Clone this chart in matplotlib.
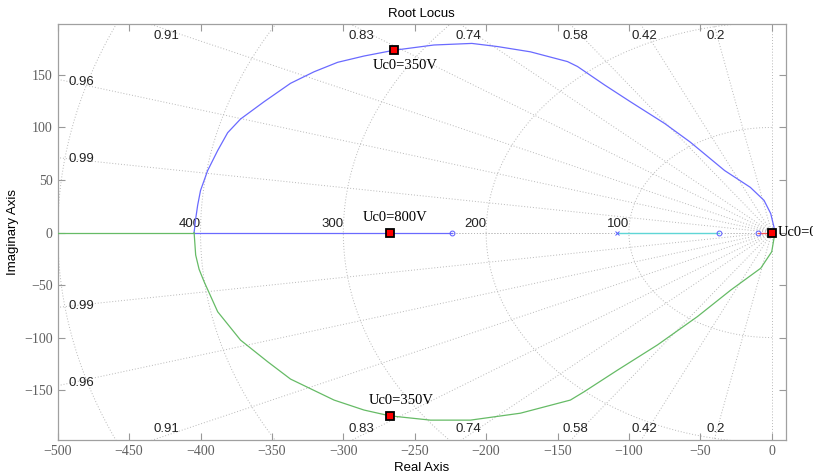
import numpy as np
import matplotlib.pyplot as plt

# root locus branches
upper_re = [-404.5, -403.5, -402, -400, -395, -388, -381, -372, -355.5, -337, -320.5, -304,
            -285.5, -264.5, -236.5, -210, -192, -169, -143, -136, -117, -99, -75, -57, -33,
            -15, -5.4, -0.7, 1.6, 1.5]
upper_im = [0, 12, 26, 40, 59, 78, 95, 108, 124.5, 142, 153, 162, 168, 173.5, 178.5, 180,
            177, 172, 162.7, 158, 140.4, 124.5, 103.8, 86, 59, 43, 30.6, 18, 5, 0]
lower_re = [-404.5, -403.4, -401, -397.5, -388, -372, -353, -337, -306.5, -285.5, -267.5,
            -239, -211, -176, -141, -131.4, -108, -80, -52, -28.7, -7.7, 0, 1.6, 1.5]
lower_im = [0, -21.4, -35, -46.8, -75.4, -102.4, -123, -139.5, -159.5, -169, -174.5,
            -178.6, -178.6, -172, -159.5, -151.6, -131, -107, -80, -54.8, -34, -18.3,
            -5.5, 0]
breakaway = -404.5
zeros_re = [-223.6, -36.9, -9.6]
pole_re = [-108.1]

uc_re = [-264.5, -267.5, -267.5, 0.5]
uc_im = [173.8, 0, -174.5, 0]
uc_text = ['Uc0=350V', 'Uc0=800V', 'Uc0=350V', 'Uc0=0V']

zetas = [0.2, 0.42, 0.58, 0.74, 0.83, 0.91, 0.96, 0.99]
zeta_labels = ['0.2', '0.42', '0.58', '0.74', '0.83', '0.91', '0.96', '0.99']
wns = [100, 200, 300, 400, 500]
wn_labels = ['100', '200', '300', '400']

xlim = (-500, 10)
ylim = (-197.5, 198.5)

fig = plt.figure(figsize=(8.13, 4.73), dpi=100)
ax = fig.add_axes([0.071, 0.0698, 0.8958, 0.8795])
ax.set_xlim(xlim)
ax.set_ylim(ylim)

gc = '#b8b8b8'
gls = (0, (1, 2))
# damping ratio rays
for z in [0.0, 1.0] + zetas:
    th = np.arccos(z)
    for s in (1, -1):
        ax.plot([0, -1000 * np.cos(th)], [0, s * 1000 * np.sin(th)], color=gc,
                lw=0.7, ls=gls, zorder=1)
# natural frequency arcs
t = np.linspace(np.pi / 2, 3 * np.pi / 2, 300)
for w in wns:
    ax.plot(w * np.cos(t), w * np.sin(t), color=gc, lw=0.7, ls=gls, zorder=1)

# zeta labels
lf = dict(fontsize=9.5, color='#222222', family='Liberation Sans')
ytop = 193
xleft = -492.5
for z, lab in zip(zetas, zeta_labels):
    tn = np.tan(np.arccos(z))
    xt = -ytop / tn
    if xt > xleft:
        ax.text(xt, ytop, lab, ha='center', va='top', **lf)
        ax.text(xt, -ytop, lab, ha='center', va='bottom', **lf)
    else:
        yl = -xleft * tn
        ax.text(xleft, yl, lab, ha='left', va='center', **lf)
        ax.text(xleft, -yl, lab, ha='left', va='center', **lf)
for w, lab in zip(wns, wn_labels):
    ax.text(-w, 2, lab, ha='right', va='bottom', **lf)

blue = '#6a6aff'
green = '#66bb66'
cyan = '#5fd6d6'
red = '#ff5050'
ax.plot([xlim[0], breakaway], [0, 0], color=green, lw=0.9, zorder=3)
ax.plot([breakaway, zeros_re[0]], [0, 0], color=blue, lw=0.9, zorder=3)
ax.plot([pole_re[0], zeros_re[1]], [0, 0], color=cyan, lw=1.0, zorder=3)
ax.plot([zeros_re[2], 0], [0, 0], color=red, lw=0.9, zorder=3)
ax.plot(upper_re, upper_im, color=blue, lw=0.9, zorder=3)
ax.plot(lower_re, lower_im, color=green, lw=0.9, zorder=3)

ax.plot(zeros_re, [0] * len(zeros_re), 'o', mfc='none', mec='#5a5aff', ms=3.5,
        mew=0.7, zorder=4)
ax.plot(pole_re, [0], 'x', color='#5a5aff', ms=3, mew=0.7, zorder=4)

ax.plot(uc_re, uc_im, 's', mfc='red', mec='black', ms=5.5, mew=1.3, zorder=5)
tf = dict(family='Liberation Serif', fontsize=10.5, color='black')
ax.text(uc_re[0] + 8, uc_im[0] - 15, uc_text[0], ha='center', va='center', **tf)
ax.text(uc_re[1] + 4, 14, uc_text[1], ha='center', va='center', **tf)
ax.text(uc_re[2] + 8, uc_im[2] + 15, uc_text[2], ha='center', va='center', **tf)
ax.text(uc_re[3] + 4, 0, uc_text[3], ha='left', va='center', clip_on=False, **tf)

ax.set_xticks(np.arange(-500, 1, 50))
ax.set_yticks(np.arange(-150, 151, 50))
ax.tick_params(direction='in', top=True, right=True, length=5, color='#999999',
               labelsize=10, labelcolor='#606060')
for lab in ax.get_xticklabels() + ax.get_yticklabels():
    lab.set_family('Liberation Serif')
for sp in ax.spines.values():
    sp.set_color('#a0a0a0')
    sp.set_linewidth(0.9)

ax.set_title('Root Locus', fontsize=9.5, family='Liberation Sans', pad=5)
ax.set_xlabel('Real Axis', fontsize=9.5, family='Liberation Sans', labelpad=3)
ax.set_ylabel('Imaginary Axis', fontsize=9.5, family='Liberation Sans', labelpad=4)

fig.savefig('out.png', dpi=100)
